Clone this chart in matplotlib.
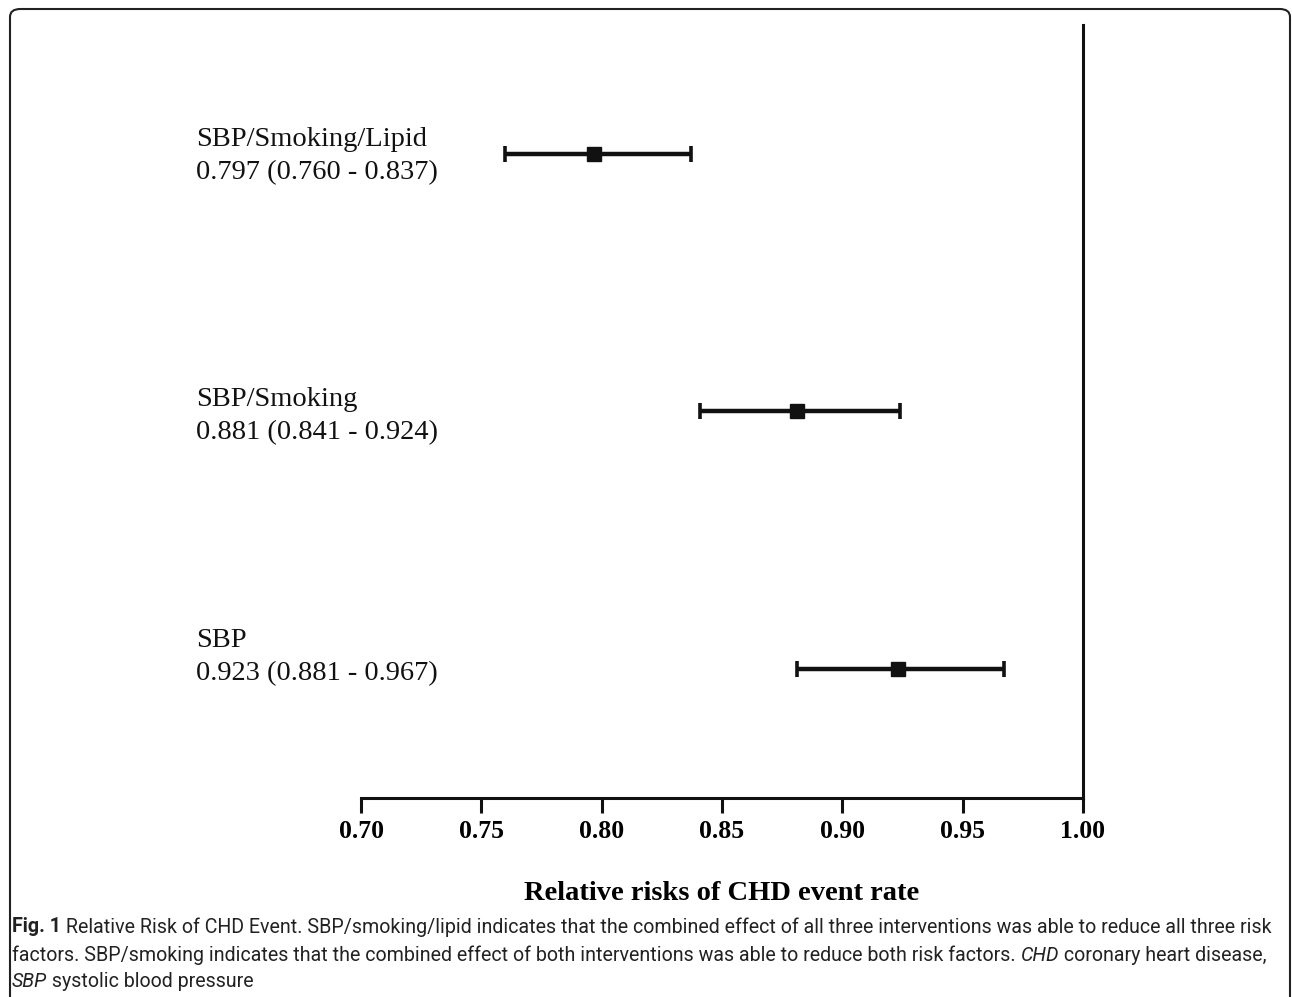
import matplotlib
matplotlib.use('Agg')
import matplotlib.pyplot as plt
from matplotlib.patches import FancyBboxPatch

# data
groups = ['SBP', 'SBP/Smoking', 'SBP/Smoking/Lipid']
rr = [0.923, 0.881, 0.797]
lo = [0.881, 0.841, 0.760]
hi = [0.967, 0.924, 0.837]
label_dy = [-12, 5, 2]   # vertical text offset (px) per row
xticks = [0.70, 0.75, 0.80, 0.85, 0.90, 0.95, 1.00]

W, H = 1292, 997
fig = plt.figure(figsize=(W / 100, H / 100), dpi=100)

# rounded frame around the whole figure
frame = FancyBboxPatch((10 / W, -20 / H), (1290 - 10) / W, (H - 9 + 20) / H,
                       boxstyle='round,pad=0,rounding_size=0.008',
                       transform=fig.transFigure, fill=False,
                       edgecolor='#222222', linewidth=1.5)
fig.patches.append(frame)

ax = fig.add_axes([361 / W, 1 - 798 / H, 722 / W, 773 / H])
ypos = list(range(len(groups)))
err = [[r - l for r, l in zip(rr, lo)], [h - r for r, h in zip(rr, hi)]]
ax.errorbar(rr, ypos, xerr=err, fmt='s', color='#111111', ecolor='#111111',
            markersize=10, elinewidth=3.2, capsize=6, capthick=2.6)

ax.set_xlim(0.70, 1.00)
ax.set_ylim(-0.5, 2.5)
ax.set_xticks(xticks)
ax.set_xticklabels([f'{t:.2f}' for t in xticks], family='Liberation Serif',
                   fontweight='bold', fontsize=18.5)
ax.tick_params(axis='x', length=11, width=2.2, pad=5, color='#111111')
ax.set_yticks([])
for s in ['top', 'left']:
    ax.spines[s].set_visible(False)
for s in ['bottom', 'right']:
    ax.spines[s].set_linewidth(2.2)
    ax.spines[s].set_color('#111111')
ax.set_xlabel('Relative risks of CHD event rate', family='Liberation Serif',
              fontweight='bold', fontsize=20.5, labelpad=27)

# row labels on the left
for y, g, r, l, h, dy in zip(ypos, groups, rr, lo, hi, label_dy):
    ax.annotate(f'{g}\n{r:.3f} ({l:.3f} - {h:.3f})', xy=(196 / W, y),
                xycoords=('figure fraction', 'data'),
                xytext=(0, -dy * 0.72), textcoords='offset points',
                ha='left', va='center', family='Liberation Serif',
                fontsize=20.5, linespacing=1.42, color='#111111')

# caption, drawn piece by piece
caption = [
    [('Fig. 1', 'bold', 'normal'),
     (' Relative Risk of CHD Event. SBP/smoking/lipid indicates that the combined effect '
      'of all three interventions was able to reduce all three risk', 'normal', 'normal')],
    [('factors. SBP/smoking indicates that the combined effect of both interventions was '
      'able to reduce both risk factors. ', 'normal', 'normal'),
     ('CHD', 'normal', 'italic'), (' coronary heart disease,', 'normal', 'normal')],
    [('SBP', 'normal', 'italic'), (' systolic blood pressure', 'normal', 'normal')],
]
cap_y = [927, 955, 981]
cap_font = 'Roboto'
renderer = fig.canvas.get_renderer()

# pick a size so that the first caption line spans the frame width
probe_w = 0
for txt, wt, st in caption[0]:
    t = fig.text(0, 0, txt, fontsize=10, fontweight=wt, fontstyle=st, family=cap_font)
    probe_w += t.get_window_extent(renderer).width
    t.remove()
cap_size = 10 * 1258 / probe_w

for line, yy in zip(caption, cap_y):
    x = 12
    for txt, wt, st in line:
        t = fig.text(x / W, 1 - yy / H, txt, fontsize=cap_size, fontweight=wt, fontstyle=st,
                     family=cap_font, va='center', ha='left', color='#222222')
        x += t.get_window_extent(renderer).width

fig.savefig('out.png', dpi=100)
